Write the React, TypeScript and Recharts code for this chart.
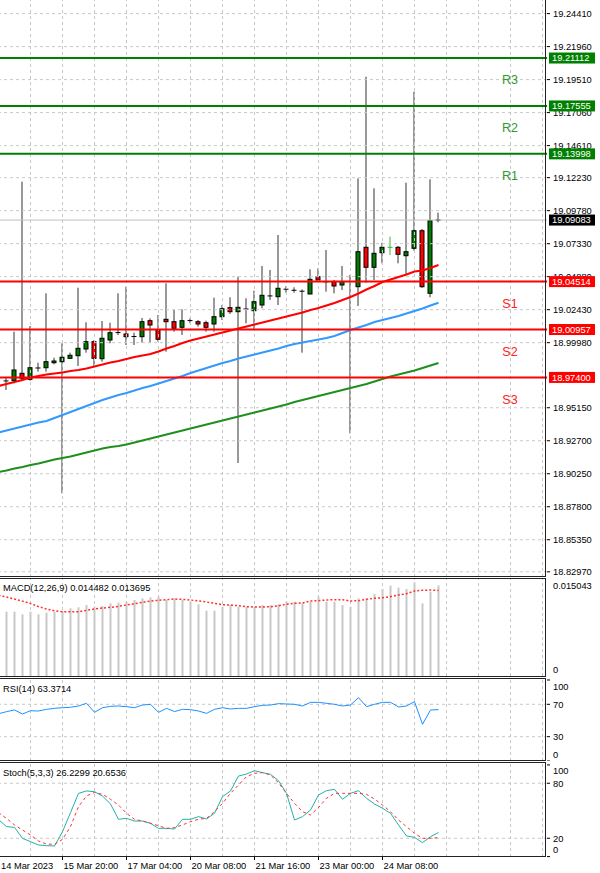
import { ComposedChart, Bar, Line, XAxis, YAxis, ReferenceLine } from 'recharts'

const FONT = '"Liberation Sans", Arial, sans-serif'
const FS = 9.3

// 4h candles, index 0..54
const opens = [
  18.9712, 18.97157, 18.97707, 18.97261, 18.98063, 18.98122, 18.98494, 18.98568, 18.9882, 18.99013,
  18.99511, 19.00053, 18.9879, 19.00179, 19.007, 19.00624, 19.0042, 19.00424, 19.01612, 19.00921,
  19.01715, 19.01538, 19.01122, 19.016, 19.01538, 19.01463, 19.01367, 19.01909, 19.02577, 19.0228,
  19.0246, 19.02354, 19.02777, 19.0343, 19.03393, 19.0393, 19.0389, 19.0382, 19.03594, 19.04878,
  19.0448, 19.04507, 19.04262, 19.045, 19.04136, 19.07061, 19.05576, 19.0666, 19.0706, 19.07061,
  19.06437, 19.06986, 19.08293, 19.03646, 19.0905,
]
const highs = [
  18.97358, 19.00795, 19.11931, 19.01218, 18.98494, 19.03646, 18.98865, 18.99934, 18.99236, 19.04062,
  19.01493, 19.00179, 19.01589, 19.01463, 19.03646, 19.04136, 19.00721, 19.01812, 19.0179, 19.02035,
  19.04388, 19.02406, 19.02458, 19.0179, 19.01664, 19.01612, 19.03319, 19.02777, 19.03349, 19.04878,
  19.03274, 19.03839, 19.05672, 19.05375, 19.07974, 19.04188, 19.04091, 19.03928, 19.05427, 19.05502,
  19.0686, 19.04633, 19.05672, 19.05004, 19.12183, 19.19726, 19.11441, 19.07402, 19.07848, 19.07157,
  19.11857, 19.18612, 19.08419, 19.12109, 19.09629,
]
const lows = [
  18.96467, 18.96964, 18.97209, 18.97157, 18.97826, 18.97826, 18.98375, 18.88798, 18.98768, 18.98249,
  18.99236, 18.98152, 18.98568, 18.99934, 19.0055, 18.99808, 18.99808, 18.99978, 18.99978, 19.00053,
  18.9931, 19.00795, 19.0055, 19.01419, 19.01166, 19.00795, 19.00795, 19.01664, 19.02109, 18.91047,
  19.01419, 19.00921, 19.02532, 19.03148, 19.02777, 19.0369, 19.0369, 18.99236, 19.0358, 19.04633,
  19.03764, 19.03646, 19.03891, 18.93252, 19.02703, 19.04433, 19.04633, 19.05873, 19.06489, 19.05873,
  19.05004, 19.06808, 19.04039, 19.03349, 19.08917,
]
const closes = [
  18.9714, 18.97952, 18.97336, 18.98122, 18.981, 18.98568, 18.9862, 18.98895, 18.99043, 18.99562,
  19.00053, 18.9882, 19.00305, 19.00721, 19.0073, 19.00424, 19.0044, 19.01538, 19.01292, 19.00231,
  19.01538, 19.01047, 19.01612, 19.0162, 19.01367, 19.01122, 19.01909, 19.02502, 19.0228, 19.02606,
  19.0248, 19.03022, 19.03497, 19.0345, 19.04017, 19.0395, 19.0387, 19.038, 19.04685, 19.04633,
  19.045, 19.04188, 19.04507, 19.0452, 19.06734, 19.05576, 19.06615, 19.07061, 19.0706, 19.06541,
  19.06734, 19.08293, 19.04136, 19.09035, 19.09083,
]

// moving averages, index -1..54
const maFast = [
  18.96764, 18.96912, 18.97061, 18.97209, 18.97395, 18.97506, 18.97617, 18.97692, 18.97766, 18.97877, 18.97952,
  18.98063, 18.98211, 18.9836, 18.98508, 18.9862, 18.98768, 18.98917, 18.99028, 18.99139, 18.99325,
  18.99548, 18.99733, 18.99956, 19.00142, 19.0029, 19.00439, 19.00587, 19.00736, 19.00884, 19.01032,
  19.01181, 19.01329, 19.01478, 19.01626, 19.01775, 19.01923, 19.02072, 19.0222, 19.02406, 19.02554,
  19.0274, 19.02926, 19.03148, 19.03371, 19.03631, 19.03928, 19.04188, 19.04485, 19.0467, 19.04856,
  19.05041, 19.05264, 19.05338, 19.05524, 19.05747,
]
const maMid = [
  18.93312, 18.9346, 18.93609, 18.93757, 18.93905, 18.94054, 18.94165, 18.94388, 18.94611, 18.94834, 18.95056,
  18.95279, 18.95502, 18.95724, 18.9591, 18.96096, 18.96244, 18.9643, 18.96615, 18.96764, 18.96949,
  18.97135, 18.97321, 18.97506, 18.97729, 18.97914, 18.981, 18.98286, 18.98471, 18.9862, 18.98805,
  18.98954, 18.99102, 18.99251, 18.99399, 18.99548, 18.99733, 18.99882, 18.99993, 19.00105, 19.00216,
  19.00327, 19.00476, 19.00698, 19.00921, 19.01107, 19.01292, 19.01515, 19.01664, 19.01812, 19.0196,
  19.02146, 19.02332, 19.02517, 19.0274, 19.02948,
]
const maSlow = [
  18.90379, 18.90491, 18.90639, 18.9075, 18.90899, 18.9101, 18.91159, 18.91307, 18.91419, 18.9153, 18.91678,
  18.91827, 18.91975, 18.92124, 18.92235, 18.92309, 18.92421, 18.92569, 18.92718, 18.92866, 18.93015,
  18.93163, 18.93312, 18.9346, 18.93609, 18.93757, 18.93905, 18.94054, 18.94203, 18.94351, 18.945,
  18.94648, 18.94796, 18.94945, 18.95093, 18.95242, 18.9539, 18.95576, 18.95724, 18.95873, 18.96021,
  18.9617, 18.96318, 18.96467, 18.96615, 18.96764, 18.96912, 18.97098, 18.97283, 18.97469, 18.97617,
  18.97766, 18.97914, 18.981, 18.98286, 18.98471,
]

// MACD histogram 0..54, signal -1..54
const macdHist = [
  0.01029, 0.01029, 0.00987, 0.01029, 0.00987, 0.01013, 0.01029, 0.0104, 0.01083, 0.01099,
  0.01136, 0.01109, 0.0112, 0.01163, 0.01173, 0.01189, 0.01216, 0.01243, 0.01259, 0.0127,
  0.01216, 0.01243, 0.01216, 0.01189, 0.01147, 0.01045, 0.01045, 0.01109, 0.01136, 0.01109,
  0.01109, 0.01109, 0.01136, 0.01136, 0.01147, 0.01189, 0.01189, 0.01163, 0.01189, 0.0127,
  0.01189, 0.01189, 0.01136, 0.01109, 0.01243, 0.01243, 0.01312, 0.01392, 0.01446, 0.01414,
  0.01392, 0.01499, 0.01163, 0.0135, 0.014482,
]
const macdSignal = [
  0.0129, 0.01264, 0.01232, 0.01198, 0.0116, 0.0111, 0.01072, 0.01045, 0.01029, 0.01029, 0.01029,
  0.01051, 0.01072, 0.01088, 0.01099, 0.01115, 0.01136, 0.01157, 0.01179, 0.012, 0.01211,
  0.01221, 0.01232, 0.01227, 0.01216, 0.012, 0.01184, 0.01163, 0.01141, 0.01136, 0.01125,
  0.01109, 0.01104, 0.01104, 0.01109, 0.01125, 0.01147, 0.01163, 0.01168, 0.012, 0.01205,
  0.01216, 0.01221, 0.01221, 0.012, 0.01205, 0.01227, 0.01243, 0.01253, 0.0127, 0.01296,
  0.01317, 0.0136, 0.01371, 0.01376, 0.013695,
]

// RSI(14), -1..54
const rsi = [
  58.3, 60.9, 63.0, 58.0, 62.1, 61.7, 63.8, 65.0, 65.8, 66.3, 67.9,
  71.2, 60.1, 65.8, 67.5, 67.9, 67.1, 65.8, 69.1, 70.0, 60.1,
  65.0, 61.0, 63.8, 63.4, 61.7, 58.8, 63.8, 65.8, 64.2, 65.0,
  65.0, 67.1, 68.7, 69.1, 70.8, 70.4, 70.0, 67.9, 72.4, 72.4,
  71.2, 70.0, 67.9, 69.1, 78.2, 67.1, 70.0, 72.4, 72.4, 66.7,
  67.9, 73.3, 45.3, 63.0, 63.3714,
]

// Stoch(5,3,3), -1..54
const stochK = [
  40.5, 32.7, 31.9, 19.9, 16.3, 12.7, 11.9, 11.6, 27.2, 47.9, 69.0,
  71.6, 70.8, 66.1, 57.4, 40.7, 41.7, 38.8, 38.8, 36.3, 30.8,
  30.8, 30.1, 40.7, 40.7, 43.6, 41.0, 47.2, 65.4, 71.6, 87.9,
  90.1, 93.7, 91.6, 89.7, 82.8, 69.0, 39.9, 43.6, 50.8, 67.2,
  71.9, 73.4, 62.5, 69.0, 71.9, 63.6, 57.4, 52.7, 47.2, 34.5,
  22.5, 21.0, 15.2, 21.7, 26.2299,
]
const stochD = [
  48.0, 41.7, 34.5, 29.0, 23.6, 17.0, 13.7, 13.4, 18.8, 32.7, 54.5,
  66.1, 70.1, 67.9, 62.5, 56.3, 47.2, 40.7, 38.8, 36.3, 33.7,
  30.8, 31.6, 34.5, 38.1, 40.7, 41.7, 49.0, 58.1, 69.0, 78.1,
  87.2, 90.8, 91.6, 89.0, 80.6, 69.0, 58.1, 49.0, 45.4, 53.4,
  63.6, 69.0, 69.0, 69.0, 69.0, 67.9, 62.8, 56.3, 49.0, 39.9,
  32.7, 25.4, 19.9, 19.9, 20.6536,
]

const priceTicks = [
  19.2441, 19.2196, 19.1951, 19.1706, 19.1461, 19.1223, 19.0978, 19.0733, 19.0488,
  19.0243, 18.9998, 18.9515, 18.927, 18.9025, 18.878, 18.8535, 18.8297,
]
const levelNames = ['R3', 'R2', 'R1', 'S1', 'S2', 'S3']
const levelPrices = [19.21112, 19.17555, 19.13998, 19.04514, 19.00957, 18.974]
const bidPrice = 19.09083

const dateTickIdx = [-0.8125, 7, 15, 23, 31, 39, 47]
const dateLabels = ['14 Mar 2023', '15 Mar 20:00', '17 Mar 04:00', '20 Mar 08:00', '21 Mar 16:00', '23 Mar 00:00', '24 Mar 08:00']

const X_MIN = -0.8125
const X_MAX = 67.5625
const P_MAX = 19.2542
const P_MIN = 18.82584
const gridCols = Array.from({ length: 17 }, (_, n) => 3 + 4 * n)
const GRID = '#c8c8c8'

const rows = maFast.map((v, k) => {
  const i = k - 1
  const row: any = {
    i,
    maFast: v,
    maMid: maMid[k],
    maSlow: maSlow[k],
    signal: macdSignal[k],
    rsi: rsi[k],
    k: stochK[k],
    d: stochD[k],
  }
  if (i >= 0) {
    row.open = opens[i]
    row.high = highs[i]
    row.low = lows[i]
    row.close = closes[i]
    row.range = [lows[i], highs[i]]
    row.hist = macdHist[i]
  }
  return row
})

function Candle(props: any) {
  const { x, y, width, height, payload } = props
  if (!payload || payload.open == null || !isFinite(y)) return null
  const top = Math.min(y, y + height)
  const h = Math.abs(height)
  const { open, close, high, low } = payload
  const k = h / (high - low)
  const cx = x + width / 2
  const yO = top + (high - open) * k
  const yC = top + (high - close) * k
  const bTop = Math.min(yO, yC)
  const bH = Math.abs(yO - yC)
  if (open === close) {
    return (
      <g>
        <line x1={cx} x2={cx} y1={top} y2={top + h} stroke="#3cb43c" />
        <line x1={cx - 2.5} x2={cx + 2.5} y1={yO} y2={yO} stroke="#3cb43c" />
      </g>
    )
  }
  return (
    <g>
      <line x1={cx} x2={cx} y1={top} y2={top + h} stroke="#333" />
      {bH < 1.5 ? (
        <line x1={cx - 2.5} x2={cx + 2.5} y1={yC} y2={yC} stroke="#000" />
      ) : (
        <rect x={cx - 2} y={bTop} width={4} height={bH} fill={close > open ? '#007a00' : '#ff0000'} stroke="#000" />
      )}
    </g>
  )
}

function LevelTag(props: any) {
  const { viewBox, name, value, color, textColor } = props
  if (!viewBox) return null
  const right = viewBox.x + viewBox.width
  const y = viewBox.y
  return (
    <g>
      {name ? (
        <text x={right - 37} y={y + 22} dy="0.35em" textAnchor="middle" fill={textColor} fontSize={12.5} fontFamily={FONT}>
          {name}
        </text>
      ) : null}
      <rect x={right + 2} y={y - 5.5} width={46} height={11} fill={color} />
      <text x={right + 5} y={y} dy="0.36em" fill="#fff" fontSize={FS} fontFamily={FONT}>
        {value.toFixed(5)}
      </text>
    </g>
  )
}

function SideTick(props: any) {
  const { x, y, payload, shifts } = props
  const v = payload.value
  return (
    <text x={x} y={y + (shifts[v] || 0)} dy="0.35em" fill="#000" fontSize={FS} fontFamily={FONT}>
      {String(v)}
    </text>
  )
}

function DateTick(props: any) {
  const { x, y, index } = props
  return (
    <g>
      {index > 0 ? <line x1={x} x2={x} y1={y - 5} y2={y - 2} stroke="#000" /> : null}
      <text x={index === 0 ? 1 : x + 1} y={y} dy="0.71em" fill="#000" fontSize={FS} fontFamily={FONT}>
        {dateLabels[index]}
      </text>
    </g>
  )
}

const vGrid = gridCols.map((c) => (
  <ReferenceLine key={'v' + c} x={c} stroke={GRID} strokeDasharray="3 3" />
))

const panelBorder = (top: number, height: number) => ({
  position: 'absolute' as const,
  left: -2,
  top,
  width: 548,
  height,
  borderTop: '1px solid #222',
  borderBottom: '1px solid #222',
  borderRight: '1px solid #222',
  boxSizing: 'border-box' as const,
  pointerEvents: 'none' as const,
})

const labelStyle = (top: number) => ({
  position: 'absolute' as const,
  left: 3,
  top,
  fontSize: FS,
  lineHeight: '11px',
  color: '#000',
  fontFamily: FONT,
  whiteSpace: 'nowrap' as const,
})

const mainX = <XAxis dataKey="i" type="number" domain={[X_MIN, X_MAX]} allowDataOverflow hide />

export default function App() {
  return (
    <div style={{ position: 'relative', width: 600, height: 873, background: '#fff', overflow: 'hidden' }}>
      <style>{'body{margin:0}'}</style>

      <div style={{ position: 'absolute', left: 0, top: 0 }}>
        <ComposedChart width={600} height={577} data={rows} margin={{ top: 0, right: 0, bottom: 0, left: 0 }}>
          {mainX}
          <YAxis
            orientation="right"
            type="number"
            domain={[P_MIN, P_MAX]}
            allowDataOverflow
            ticks={priceTicks}
            interval={0}
            width={53}
            tickSize={3}
            tickMargin={3}
            axisLine={false}
            tickLine={{ stroke: '#000' }}
            tickFormatter={(v: number) => v.toFixed(5)}
            tick={{ fontSize: FS, fill: '#000', fontFamily: FONT }}
          />
          {vGrid}
          {priceTicks.map((p) => (
            <ReferenceLine key={'h' + p} y={p} stroke={GRID} strokeDasharray="3 3" />
          ))}
          <ReferenceLine y={bidPrice} stroke="#c0c0c0" />
          <Bar dataKey="range" barSize={5} shape={<Candle />} isAnimationActive={false} />
          <Line dataKey="maSlow" type="linear" stroke="#1f8f1f" strokeWidth={2} dot={false} isAnimationActive={false} />
          <Line dataKey="maMid" type="linear" stroke="#3399ff" strokeWidth={2} dot={false} isAnimationActive={false} />
          <Line dataKey="maFast" type="linear" stroke="#ff0000" strokeWidth={2} dot={false} isAnimationActive={false} />
        </ComposedChart>
      </div>

      {/* support / resistance levels and price tags, drawn over the price scale */}
      <div style={{ position: 'absolute', left: 0, top: 0 }}>
        <ComposedChart width={600} height={577} data={rows} margin={{ top: 0, right: 0, bottom: 0, left: 0 }}>
          {mainX}
          <YAxis
            orientation="right"
            type="number"
            domain={[P_MIN, P_MAX]}
            allowDataOverflow
            width={53}
            tick={false}
            tickLine={false}
            axisLine={false}
          />
          {levelPrices.map((p, n) => {
            const isR = levelNames[n].startsWith('R')
            return (
              <ReferenceLine
                key={levelNames[n]}
                y={p}
                stroke={isR ? '#008000' : '#ff0000'}
                strokeWidth={2}
                label={
                  <LevelTag
                    name={levelNames[n]}
                    value={p}
                    color={isR ? '#008000' : '#ff0000'}
                    textColor={isR ? '#2e9a2e' : '#ff2020'}
                  />
                }
              />
            )
          })}
          <ReferenceLine y={bidPrice} stroke="#c0c0c0" strokeOpacity={0} label={<LevelTag value={bidPrice} color="#000" />} />
        </ComposedChart>
      </div>

      <div style={{ position: 'absolute', left: 0, top: 579 }}>
        <ComposedChart width={600} height={97} data={rows} margin={{ top: 0, right: 0, bottom: 0, left: 0 }}>
          {mainX}
          <YAxis
            orientation="right"
            type="number"
            domain={[0, 0.015523]}
            allowDataOverflow
            ticks={[0.015043, 0]}
            interval={0}
            width={53}
            tickSize={3}
            tickMargin={3}
            axisLine={false}
            tickLine={false}
            tick={(p: any) => <SideTick {...p} shifts={{ 0.015043: 4, 0: -6 }} />}
          />
          {vGrid}
          <Bar dataKey="hist" barSize={2} fill="#c8c8c8" isAnimationActive={false} />
          <Line dataKey="signal" type="linear" stroke="#ff3030" strokeWidth={1.5} strokeDasharray="2 2" dot={false} isAnimationActive={false} />
        </ComposedChart>
      </div>

      <div style={{ position: 'absolute', left: 0, top: 679 }}>
        <ComposedChart width={600} height={82} data={rows} margin={{ top: 0, right: 0, bottom: 0, left: 0 }}>
          {mainX}
          <YAxis
            orientation="right"
            type="number"
            domain={[0, 101.23]}
            allowDataOverflow
            ticks={[100, 70, 30, 0]}
            interval={0}
            width={53}
            tickSize={3}
            tickMargin={3}
            axisLine={false}
            tickLine={{ stroke: '#000' }}
            tick={(p: any) => <SideTick {...p} shifts={{ 100: 6.5, 0: -6 }} />}
          />
          {vGrid}
          <ReferenceLine y={70} stroke={GRID} strokeDasharray="3 3" />
          <ReferenceLine y={30} stroke={GRID} strokeDasharray="3 3" />
          <Line dataKey="rsi" type="linear" stroke="#1e90ff" strokeWidth={1} dot={false} isAnimationActive={false} />
        </ComposedChart>
      </div>

      <div style={{ position: 'absolute', left: 0, top: 763 }}>
        <ComposedChart width={600} height={111} data={rows} margin={{ top: 0, right: 0, bottom: 0, left: 0 }}>
          <XAxis
            dataKey="i"
            type="number"
            domain={[X_MIN, X_MAX]}
            allowDataOverflow
            ticks={dateTickIdx}
            interval={0}
            height={17}
            tickSize={3}
            tickMargin={2}
            axisLine={false}
            tickLine={false}
            tick={(p: any) => <DateTick {...p} />}
          />
          <YAxis
            orientation="right"
            type="number"
            domain={[-0.44, 102.1]}
            allowDataOverflow
            ticks={[100, 80, 20, 0]}
            interval={0}
            width={53}
            tickSize={3}
            tickMargin={3}
            axisLine={false}
            tickLine={{ stroke: '#000' }}
            tick={(p: any) => <SideTick {...p} shifts={{ 100: 6, 0: -6.5 }} />}
          />
          {vGrid}
          <ReferenceLine y={80} stroke={GRID} strokeDasharray="3 3" />
          <ReferenceLine y={20} stroke={GRID} strokeDasharray="3 3" />
          <Line dataKey="k" type="linear" stroke="#20b2aa" strokeWidth={1} dot={false} isAnimationActive={false} />
          <Line dataKey="d" type="linear" stroke="#ff3030" strokeWidth={1} strokeDasharray="3 3" dot={false} isAnimationActive={false} />
        </ComposedChart>
      </div>

      <div style={panelBorder(-2, 579)} />
      <div style={panelBorder(578, 99)} />
      <div style={panelBorder(678, 83)} />
      <div style={panelBorder(762, 95)} />

      <div style={labelStyle(582.5)}>MACD(12,26,9) 0.014482 0.013695</div>
      <div style={labelStyle(683.5)}>RSI(14) 63.3714</div>
      <div style={labelStyle(767.5)}>Stoch(5,3,3) 26.2299 20.6536</div>
    </div>
  )
}
